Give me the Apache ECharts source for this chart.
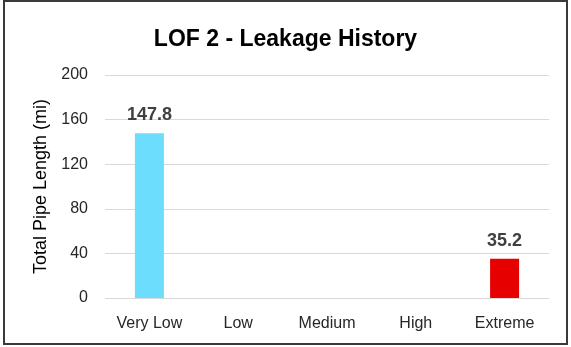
<!DOCTYPE html>
<html>
<head>
<meta charset="utf-8">
<title>LOF 2 - Leakage History</title>
<script src="https://cdn.jsdelivr.net/npm/echarts@6/dist/echarts.min.js"></script>
<style>
  html, body { margin: 0; padding: 0; background: #ffffff; }
  #chart { width: 571px; height: 347px; }
</style>
</head>
<body>
<div id="chart"></div>
<script>
// Likelihood-of-failure categories and pipe length (miles) in each
const categories = ['Very Low', 'Low', 'Medium', 'High', 'Extreme'];
const pipeLength = [147.8, 0, 0, 0, 35.2];
const barColors = ['#6DDDFD', '#6DDDFD', '#6DDDFD', '#6DDDFD', '#E60000'];
const yTicks = [0, 40, 80, 120, 160, 200];

const FONT = '"Liberation Sans", Arial, sans-serif';

const chart = echarts.init(document.getElementById('chart'), null, { renderer: 'canvas' });

chart.setOption({
  animation: false,
  backgroundColor: '#ffffff',
  textStyle: { fontFamily: FONT },
  title: {
    text: 'LOF 2 - Leakage History',
    left: 'center',
    top: 23,
    textStyle: { fontFamily: FONT, fontSize: 23, fontWeight: 'bold', color: '#000000' }
  },
  graphic: [{
    type: 'rect',
    shape: { x: 4, y: 1, width: 563, height: 343 },
    style: { fill: 'none', stroke: '#3a3a3a', lineWidth: 2 },
    silent: true,
    z: 100
  }],
  grid: { left: 105, right: 22, top: 75, bottom: 49 },
  xAxis: {
    type: 'category',
    data: categories,
    axisLine: { show: false },
    axisTick: { show: false },
    axisLabel: { fontFamily: FONT, fontSize: 16, color: '#262626', margin: 18 }
  },
  yAxis: {
    type: 'value',
    min: yTicks[0],
    max: yTicks[yTicks.length - 1],
    interval: yTicks[1] - yTicks[0],
    name: 'Total Pipe Length (mi)',
    nameLocation: 'middle',
    nameGap: 53,
    nameTextStyle: { fontFamily: FONT, fontSize: 18, color: '#000000' },
    axisLine: { show: false },
    axisTick: { show: false },
    axisLabel: { fontFamily: FONT, fontSize: 16, color: '#262626', margin: 17 },
    splitLine: { lineStyle: { color: '#d9d9d9', width: 1 } }
  },
  series: [{
    type: 'bar',
    barWidth: 29,
    data: pipeLength.map((v, i) => ({ value: v, itemStyle: { color: barColors[i] } })),
    label: {
      show: true,
      position: 'top',
      distance: 9,
      fontFamily: FONT,
      fontSize: 18,
      fontWeight: 'bold',
      color: '#404040',
      formatter: p => (p.value > 0 ? p.value.toFixed(1) : '')
    }
  }]
});
</script>
</body>
</html>
